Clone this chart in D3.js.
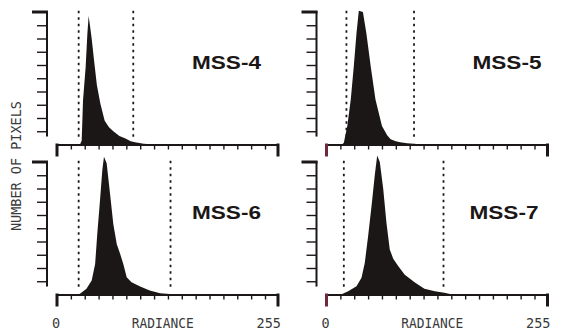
<!DOCTYPE html>
<html><head><meta charset="utf-8">
<script src="https://cdn.jsdelivr.net/npm/d3@7"></script>
<style>html,body{margin:0;padding:0;background:#fff;}svg{display:block;}</style>
</head><body>
<svg id="chart" width="562" height="334"></svg>
<script>
// ---- data ----
const bands = ["MSS-4", "MSS-5", "MSS-6", "MSS-7"];
const radiance4 = [24, 27, 28.5, 30, 33, 35, 36.5, 38, 40, 43, 46, 50, 55, 60, 65, 72, 79, 85, 90, 100, 112];
const pixels4   = [0, 0.5, 3, 33, 58, 83, 97, 90, 80, 62, 45, 31, 18, 13, 10, 6.5, 4.5, 2.5, 1.7, 0.5, 0];
const radiance5 = [18, 20, 24, 28, 31.5, 34.6, 37.3, 42, 43, 46, 51, 56.5, 64, 70, 74, 80, 85, 93, 101, 110];
const pixels5   = [0, 1.3, 14, 34, 59, 84, 101, 100, 96, 84, 59, 34, 14, 7, 4, 2.5, 1.7, 1, 0.5, 0];
const radiance6 = [24, 26.5, 34, 40, 44, 46.5, 49.6, 52.3, 54.2, 57.3, 61.2, 65, 69, 72.7, 76.5, 80.4, 86, 96, 107, 119, 130, 140];
const pixels6   = [0, 0.5, 4.3, 10.6, 23, 46, 71, 94, 104, 99, 76, 53, 38, 31, 23, 13, 9.3, 6, 3, 1, 0.3, 0];
const radiance7 = [17, 19.3, 25, 34.6, 40.4, 44.2, 48, 52, 55.7, 58.5, 61.5, 65.4, 69.2, 73, 77, 82.7, 90.3, 102, 113, 125, 136, 145];
const pixels7   = [0, 0.8, 2.5, 6.3, 12.7, 24, 44, 67, 90, 105, 100, 80, 54, 34, 27, 21.5, 15, 9, 4.3, 2.5, 1.3, 0];
const limits4 = [25, 88];
const limits5 = [23, 101];
const limits6 = [25, 131];
const limits7 = [20, 135];
const xTicks = [16, 32, 48, 64, 80, 96, 112, 128, 144, 160, 176, 192, 208, 224, 240];
const yTicks = [10, 20, 30, 40, 50, 60, 70, 80, 90];
const xLabels = ["0", "RADIANCE", "255"];
const yTitle = "NUMBER OF PIXELS";

const series = [
  {name: bands[0], r: radiance4, c: pixels4, lim: limits4},
  {name: bands[1], r: radiance5, c: pixels5, lim: limits5},
  {name: bands[2], r: radiance6, c: pixels6, lim: limits6},
  {name: bands[3], r: radiance7, c: pixels7, lim: limits7}
];

// ---- layout ----
const svg = d3.select("#chart");
const W = 221, H = 132.5;
const origins = [[57, 12], [326.5, 12], [57, 162], [326.5, 162]];
const labelX = [135, 146, 135, 143];
const ink = "#1b1717";
const x = d3.scaleLinear().domain([0, 255]).range([0, W]);
const y = d3.scaleLinear().domain([0, 100]).range([H, 0]);

series.forEach((s, i) => {
  const g = svg.append("g").attr("transform", `translate(${origins[i][0]},${origins[i][1]})`);
  const pts = s.r.map((r, k) => [r, s.c[k]]);
  // histogram fill
  g.append("path").datum(pts)
    .attr("d", d3.area().x(d => x(d[0])).y0(y(0)).y1(d => y(d[1])))
    .attr("fill", ink);
  // dotted limit lines
  g.selectAll(".lim").data(s.lim).enter().append("line")
    .attr("x1", d => x(d)).attr("x2", d => x(d))
    .attr("y1", y(101)).attr("y2", y(4))
    .attr("stroke", ink).attr("stroke-width", 1.8)
    .attr("stroke-dasharray", "2.5,4");
  // x axis
  const xa = g.append("g").attr("transform", `translate(0,${H})`)
    .call(d3.axisBottom(x).tickValues(xTicks).tickSize(5).tickSizeOuter(0).tickFormat(""));
  xa.select(".domain").attr("stroke", ink).attr("stroke-width", 2);
  xa.selectAll(".tick line").attr("stroke", ink).attr("stroke-width", 1.4);
  // end caps
  [0, 255].forEach((v, k) => {
    g.append("line").attr("x1", x(v)).attr("x2", x(v))
      .attr("y1", H - 1).attr("y2", H + 12)
      .attr("stroke", (k === 0 && i % 2 === 1) ? "#6e2a3c" : ink).attr("stroke-width", 3);
  });
  // y axis
  const ya = g.append("g").attr("transform", "translate(-10,0)")
    .call(d3.axisLeft(y).tickValues(yTicks).tickSize(10).tickSizeOuter(0).tickFormat(""));
  ya.select(".domain").remove();
  ya.selectAll(".tick line").attr("stroke", ink).attr("stroke-width", 1.4);
  ya.append("line").attr("x1", 0).attr("x2", 0).attr("y1", y(100) - 1).attr("y2", y(6))
    .attr("stroke", ink).attr("stroke-width", 2);
  ya.append("line").attr("x1", 1).attr("x2", -15).attr("y1", y(100)).attr("y2", y(100))
    .attr("stroke", ink).attr("stroke-width", 3);
  // band label
  g.append("text").attr("x", labelX[i]).attr("y", 57)
    .attr("font-family", "Liberation Sans, Arial, sans-serif").attr("font-weight", "bold")
    .attr("font-size", 19).attr("fill", ink)
    .attr("textLength", 69).attr("lengthAdjust", "spacingAndGlyphs")
    .text(s.name);
  // bottom row: axis labels
  if (i >= 2) {
    const t = g.append("g").attr("font-family", "DejaVu Sans Mono, monospace")
      .attr("font-size", 13.5).attr("fill", "#3a3a3a");
    t.append("text").attr("x", x(0) - 1).attr("y", H + 33).attr("text-anchor", "middle").text(xLabels[0]);
    t.append("text").attr("x", x(122)).attr("y", H + 33).attr("text-anchor", "middle")
      .attr("textLength", 62).attr("lengthAdjust", "spacingAndGlyphs").text(xLabels[1]);
    t.append("text").attr("x", x(255) + 3).attr("y", H + 33).attr("text-anchor", "end").text(xLabels[2]);
  }
});

svg.append("text").attr("transform", "translate(21,166) rotate(-90)")
  .attr("text-anchor", "middle").attr("font-family", "DejaVu Sans Mono, monospace")
  .attr("font-size", 13.5).attr("fill", "#3a3a3a")
  .attr("textLength", 130).attr("lengthAdjust", "spacingAndGlyphs")
  .text(yTitle);
</script>
</body></html>
